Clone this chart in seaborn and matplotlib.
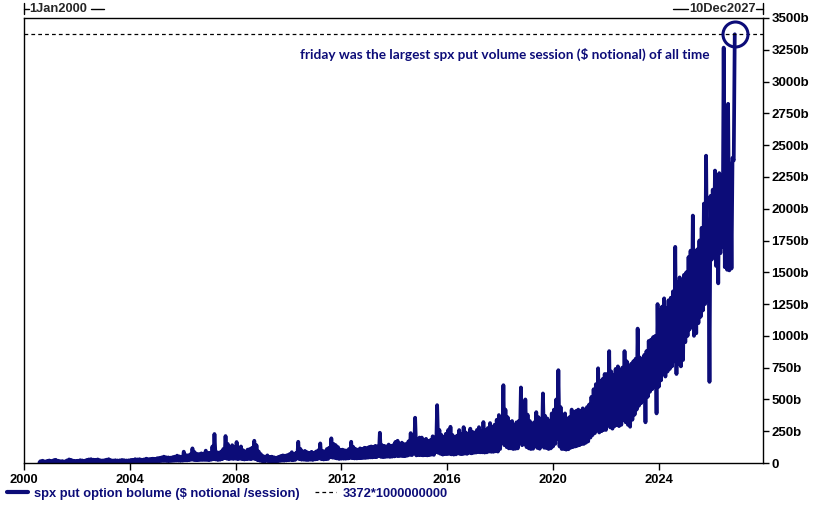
import pandas as pd
import seaborn as sns
import matplotlib.pyplot as plt
import matplotlib.dates as mdates
from matplotlib.lines import Line2D

# monthly high / low of the session series, in billions of $ notional
start_month = "2000-08-01"
end_month = "2026-11-01"

highs = [
    14, 18, 12, 16, 20,                                            # 2000 aug-dec
    16, 22, 25, 18, 14, 15, 12, 20, 28, 24, 18, 16,                # 2001
    18, 22, 20, 18, 24, 28, 30, 26, 25, 28, 22, 20,                # 2002
    22, 26, 30, 22, 20, 22, 20, 21, 24, 22, 20, 21,                # 2003
    24, 25, 30, 28, 30, 26, 28, 34, 30, 32, 34, 33,                # 2004
    38, 40, 44, 50, 45, 44, 42, 46, 50, 58, 52, 48,                # 2005
    89, 62, 60, 68, 115, 85, 72, 70, 76, 74, 97, 80,               # 2006
    80, 130, 228, 85, 82, 90, 110, 212, 150, 120, 140, 125,        # 2007
    165, 110, 130, 100, 90, 105, 110, 120, 175, 140, 90, 70,       # 2008
    55, 50, 60, 48, 50, 45, 42, 48, 55, 60, 58, 62,                # 2009
    70, 85, 72, 80, 167, 110, 90, 95, 85, 80, 88, 78,              # 2010
    90, 100, 154, 95, 92, 110, 120, 194, 150, 140, 125, 105,       # 2011
    105, 100, 98, 110, 167, 125, 110, 105, 115, 112, 120, 118,     # 2012
    125, 130, 128, 135, 130, 238, 140, 135, 130, 145, 135, 140,    # 2013
    165, 175, 150, 160, 148, 150, 170, 235, 190, 356, 175, 200,    # 2014
    200, 180, 190, 175, 180, 210, 200, 455, 260, 220, 200, 230,    # 2015
    260, 285, 220, 200, 215, 259, 230, 282, 240, 225, 270, 245,    # 2016
    240, 260, 282, 250, 322, 260, 275, 314, 280, 300, 340, 377,    # 2017
    340, 612, 420, 360, 320, 330, 300, 320, 330, 594, 420, 500,    # 2018
    380, 330, 310, 320, 400, 360, 330, 547, 370, 350, 330, 390,    # 2019
    420, 500, 730, 440, 380, 390, 350, 360, 420, 400, 410, 420,    # 2020
    410, 430, 420, 440, 460, 520, 580, 620, 745, 640, 660, 700,    # 2021
    700, 880, 720, 690, 740, 760, 720, 750, 880, 800, 760, 780,    # 2022
    800, 820, 1057, 830, 810, 850, 880, 960, 970, 990, 1000, 1250,     # 2023
    1200, 1230, 1295, 1220, 1280, 1300, 1350, 1700, 1420, 1460, 1400, 1480,  # 2024
    1500, 1620, 1670, 1946, 1600, 1680, 1750, 1850, 2040, 2417, 1900, 2100,  # 2025
    2150, 2300, 2200, 2280, 2250, 3267, 2600, 2825, 2354, 2400, 3372,        # 2026 jan-nov
]

lows = [
    4, 5, 3, 5, 6,
    5, 6, 7, 5, 4, 5, 4, 6, 8, 7, 5, 5,
    6, 7, 6, 6, 7, 8, 9, 8, 8, 9, 7, 7,
    8, 9, 10, 8, 8, 8, 7, 8, 8, 8, 8, 8,
    9, 9, 10, 10, 11, 10, 10, 11, 11, 12, 12, 12,
    13, 14, 15, 16, 16, 15, 15, 16, 17, 18, 18, 17,
    18, 20, 20, 22, 26, 24, 22, 22, 24, 24, 24, 24,
    22, 26, 30, 28, 24, 26, 30, 38, 34, 30, 34, 32,
    34, 30, 34, 30, 28, 30, 32, 30, 35, 30, 22, 18,
    14, 14, 16, 14, 14, 14, 13, 14, 16, 18, 18, 20,
    22, 24, 22, 24, 35, 30, 26, 26, 24, 24, 26, 24,
    28, 30, 36, 30, 28, 30, 32, 45, 42, 40, 36, 32,
    34, 34, 34, 36, 40, 38, 36, 36, 38, 38, 40, 40,
    42, 44, 44, 46, 46, 55, 48, 46, 48, 50, 48, 50,
    52, 56, 54, 56, 54, 54, 58, 64, 62, 75, 60, 62,
    62, 60, 62, 60, 62, 66, 64, 85, 80, 72, 66, 70,
    70, 72, 68, 66, 68, 75, 70, 70, 74, 72, 80, 76,
    80, 82, 86, 84, 84, 82, 84, 90, 88, 88, 92, 90,
    110, 160, 140, 125, 115, 115, 110, 112, 115, 160, 140, 150,
    125, 115, 110, 112, 130, 118, 112, 140, 120, 118, 110, 115,
    130, 150, 190, 130, 110, 110, 105, 108, 120, 125, 130, 135,
    140, 150, 150, 160, 170, 200, 220, 235, 260, 240, 250, 260,
    260, 300, 280, 270, 290, 300, 290, 300, 340, 320, 300, 285,
    340, 380, 420, 450, 470, 490, 320, 520, 560, 580, 600, 390,
    600, 650, 700, 680, 720, 740, 760, 800, 700, 780, 760, 810,
    950, 1000, 1050, 1070, 1000, 1020, 1100, 1150, 1200, 1250, 1280, 638,
    1600, 1700, 1550, 1413, 1650, 1700, 1540, 1520, 1515, 1530, 2380,
]

peak_value = 3372
y_ticks = list(range(0, 3501, 250))
y_labels = ["0"] + [f"{v}b" for v in y_ticks[1:]]
series_label = "spx put option bolume ($ notional /session)"
peak_label = "3372*1000000000"
note = "friday was the largest spx put volume session ($ notional) of all time"

navy = "#0c0c78"

months = pd.date_range(start_month, end_month, freq="MS")
df = pd.DataFrame({
    "date": list(months) + list(months + pd.Timedelta(days=14)),
    "value": lows + highs,
}).sort_values("date").reset_index(drop=True)

sns.set_style("ticks")
plt.rcParams["font.family"] = ["Liberation Sans", "DejaVu Sans"]
plt.rcParams["font.weight"] = "bold"

W, H = 823, 507
fig = plt.figure(figsize=(W / 100, H / 100), dpi=100)
ax = fig.add_axes([24 / W, 44 / H, 739 / W, 445 / H])

sns.lineplot(data=df, x="date", y="value", color=navy, lw=2.7, ax=ax, legend=False)
ax.axhline(peak_value, color="black", lw=0.9, ls=(0, (3, 2.5)))
last = df.iloc[-1]
ax.plot([last["date"]], [last["value"]], marker="o", ms=18, mfc="none",
        mec=navy, mew=2.2, clip_on=False)

ax.set_xlim(pd.Timestamp("2000-01-01"), pd.Timestamp("2027-12-10"))
ax.set_ylim(0, 3500)
ax.xaxis.set_major_locator(mdates.YearLocator(4))
ax.xaxis.set_major_formatter(mdates.DateFormatter("%Y"))
ax.yaxis.tick_right()
ax.set_yticks(y_ticks)
ax.set_yticklabels(y_labels)
ax.set_xlabel("")
ax.set_ylabel("")
ax.tick_params(axis="y", right=True, left=False, direction="out", length=4,
               width=1, pad=2, labelsize=9.5, colors="black")
ax.tick_params(axis="x", bottom=True, direction="out", length=5, width=1,
               pad=3, labelsize=9.3, colors="black")
for s in ax.spines.values():
    s.set_visible(True)
    s.set_color("black")
    s.set_linewidth(1)

ax.text(0.928, 0.919, note, transform=ax.transAxes, ha="right", va="center",
        color=navy, fontsize=9.8, fontweight="bold", family="Lato")

# date range markers above the plot
def fx(x):
    return x / W

def fy(y):
    return 1 - y / H

for xs, ys in [([24, 24], [3, 14]), ([24, 29], [9, 9]), ([91, 104], [9, 9]),
               ([673, 688], [9, 9]), ([756, 763], [9, 9]), ([763, 763], [3, 14])]:
    fig.add_artist(Line2D([fx(v) for v in xs], [fy(v) for v in ys],
                          color="black", lw=1))
fig.text(fx(29), fy(9), "1Jan2000", ha="left", va="center", fontsize=9.3,
         fontweight="bold")
fig.text(fx(756), fy(9), "10Dec2027", ha="right", va="center", fontsize=9.3,
         fontweight="bold")

handles = [Line2D([], [], color=navy, lw=3),
           Line2D([], [], color="black", lw=0.9, ls=(0, (3, 2.5)))]
fig.legend(handles, [series_label, peak_label], loc="lower left",
           bbox_to_anchor=(0.0, 0.0), ncol=2, frameon=False,
           prop=dict(weight="bold", size=9.3), handlelength=1.6,
           handletextpad=0.5, columnspacing=1.2, borderaxespad=0.15,
           labelcolor=navy)

fig.savefig("out.png", dpi=100)
